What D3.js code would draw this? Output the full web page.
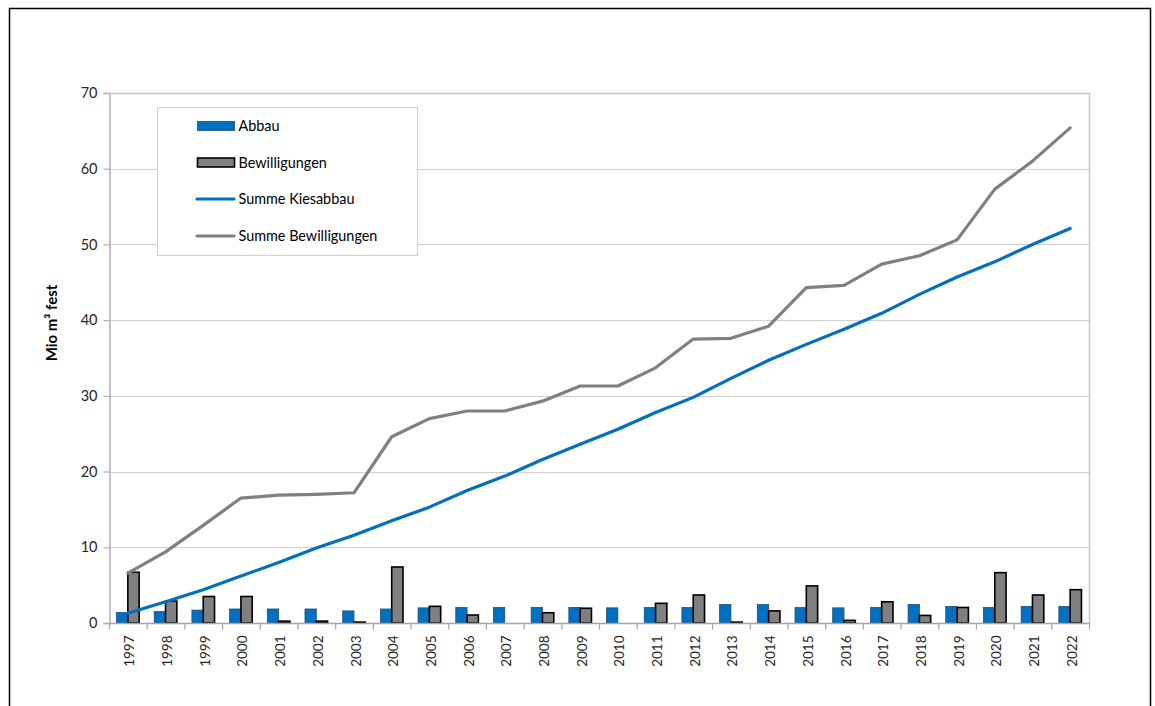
<!DOCTYPE html>
<html>
<head>
<meta charset="utf-8">
<script src="https://cdn.jsdelivr.net/npm/d3@7"></script>
<style>
  html, body { margin: 0; padding: 0; background: #fff; }
  svg { display: block; font-family: Lato, "Liberation Sans", sans-serif; }
</style>
</head>
<body>
<svg id="chart" width="1155" height="706"></svg>
<script>
// Years on the category axis
const years = ["1997","1998","1999","2000","2001","2002","2003","2004","2005","2006","2007","2008","2009",
               "2010","2011","2012","2013","2014","2015","2016","2017","2018","2019","2020","2021","2022"];

// Annual gravel extraction (Mio m³ fest)
const abbau = [1.4, 1.5, 1.7, 1.85, 1.85, 1.85, 1.6, 1.85, 2.0, 2.05, 2.05, 2.05, 2.05,
               2.0, 2.05, 2.05, 2.45, 2.45, 2.05, 2.0, 2.05, 2.45, 2.2, 2.05, 2.2, 2.2];

// Annual permits granted (Mio m³ fest)
const bewilligungen = [6.7, 2.9, 3.5, 3.5, 0.25, 0.25, 0.12, 7.4, 2.2, 1.05, 0, 1.35, 1.95,
                       0, 2.6, 3.7, 0.12, 1.6, 4.9, 0.35, 2.8, 1.0, 2.05, 6.65, 3.7, 4.4];

// Running totals
const summeKiesabbau = [1.3, 2.8, 4.4, 6.2, 8.0, 9.9, 11.6, 13.5, 15.3, 17.5, 19.4, 21.6, 23.6,
                        25.6, 27.8, 29.8, 32.3, 34.7, 36.8, 38.8, 40.9, 43.4, 45.7, 47.7, 50.0, 52.1];
const summeBewilligungen = [6.6, 9.4, 12.9, 16.5, 16.9, 17.0, 17.2, 24.6, 27.0, 28.0, 28.0, 29.3, 31.3,
                            31.3, 33.7, 37.5, 37.6, 39.2, 44.3, 44.6, 47.4, 48.5, 50.6, 57.3, 61.0, 65.4];

const yTicks = [0, 10, 20, 30, 40, 50, 60, 70];

const legendItems = [
  { label: "Abbau", type: "bar", fill: "#0070C0", stroke: "#1F4E79" },
  { label: "Bewilligungen", type: "bar", fill: "#808080", stroke: "#000000" },
  { label: "Summe Kiesabbau", type: "line", stroke: "#0070C0" },
  { label: "Summe Bewilligungen", type: "line", stroke: "#808080" }
];

const svg = d3.select("#chart");

// Frame around the chart object
svg.append("path")
  .attr("d", "M9.5,706 V8.5 H1150.5 V706")
  .attr("fill", "none")
  .attr("stroke", "#000")
  .attr("stroke-width", 1.5);

const plot = { left: 109, right: 1089, top: 93, bottom: 623 };

const x = d3.scaleBand().domain(years).range([plot.left, plot.right]).paddingInner(0).paddingOuter(0);
const y = d3.scaleLinear().domain([0, 70]).range([plot.bottom, plot.top]);

// Gridlines
svg.append("g")
  .selectAll("line")
  .data(yTicks.filter(d => d > 0))
  .join("line")
  .attr("x1", plot.left).attr("x2", plot.right)
  .attr("y1", d => Math.round(y(d)) + 0.5).attr("y2", d => Math.round(y(d)) + 0.5)
  .attr("stroke", "#D0D0D0").attr("stroke-width", 1);

// Plot area border (right side)
svg.append("line")
  .attr("x1", plot.right + 0.5).attr("x2", plot.right + 0.5)
  .attr("y1", plot.top).attr("y2", plot.bottom)
  .attr("stroke", "#C8C8C8").attr("stroke-width", 1.5);

// Y axis
const yAxis = svg.append("g")
  .attr("transform", `translate(${plot.left + 0.5},0)`)
  .call(d3.axisLeft(y).tickValues(yTicks).tickSize(6).tickPadding(6).tickFormat(d3.format("d")));
yAxis.select(".domain").attr("stroke", "#B0B0B0").attr("stroke-width", 1.5);
yAxis.selectAll(".tick line").attr("stroke", "#B0B0B0").attr("stroke-width", 1.2);
yAxis.selectAll(".tick text")
  .attr("font-size", 14.5).attr("fill", "#262626")
  .attr("font-family", "Lato, 'Liberation Sans', sans-serif");

// Y axis title
svg.append("text")
  .attr("transform", "translate(57,323) rotate(-90)")
  .attr("text-anchor", "middle")
  .attr("font-size", 15)
  .attr("font-weight", "bold")
  .attr("fill", "#000")
  .text("Mio m³ fest");

// Bars
const bw = x.bandwidth() * 0.3;
const bars = svg.append("g");
bars.selectAll("rect.abbau")
  .data(years)
  .join("rect")
  .attr("class", "abbau")
  .attr("x", d => x(d) + x.bandwidth() / 2 - bw)
  .attr("width", bw)
  .attr("y", (d, i) => y(abbau[i]))
  .attr("height", (d, i) => y(0) - y(abbau[i]))
  .attr("fill", "#0070C0")
  .attr("stroke", "#1F4E79")
  .attr("stroke-width", 0.8);

bars.selectAll("rect.bew")
  .data(years.map((d, i) => ({ year: d, v: bewilligungen[i] })).filter(d => d.v > 0))
  .join("rect")
  .attr("class", "bew")
  .attr("x", d => x(d.year) + x.bandwidth() / 2)
  .attr("width", bw)
  .attr("y", d => y(d.v))
  .attr("height", d => y(0) - y(d.v))
  .attr("fill", "#808080")
  .attr("stroke", "#000")
  .attr("stroke-width", 1.6);

// X axis
const xAxisG = svg.append("g").attr("transform", `translate(0,${plot.bottom + 0.5})`);
xAxisG.append("line")
  .attr("x1", plot.left).attr("x2", plot.right + 1)
  .attr("stroke", "#A6A6A6").attr("stroke-width", 1.5);
xAxisG.selectAll("line.tk")
  .data(years.concat(["end"]))
  .join("line")
  .attr("class", "tk")
  .attr("x1", d => (d === "end" ? plot.right : x(d)) + 0.5)
  .attr("x2", d => (d === "end" ? plot.right : x(d)) + 0.5)
  .attr("y1", 0).attr("y2", 6)
  .attr("stroke", "#A6A6A6").attr("stroke-width", 1.2);
xAxisG.selectAll("text")
  .data(years)
  .join("text")
  .attr("transform", d => `translate(${x(d) + x.bandwidth() / 2 + 6.5},12) rotate(-90)`)
  .attr("text-anchor", "end")
  .attr("font-size", 13.5)
  .attr("fill", "#262626")
  .text(d => d);

// Cumulative lines
const line = d3.line()
  .x((d, i) => x(years[i]) + x.bandwidth() / 2)
  .y(d => y(d));

svg.append("path")
  .datum(summeBewilligungen)
  .attr("d", line)
  .attr("fill", "none")
  .attr("stroke", "#808080")
  .attr("stroke-width", 3.2)
  .attr("stroke-linejoin", "round")
  .attr("stroke-linecap", "round");

svg.append("path")
  .datum(summeKiesabbau)
  .attr("d", line)
  .attr("fill", "none")
  .attr("stroke", "#0070C0")
  .attr("stroke-width", 3.2)
  .attr("stroke-linejoin", "round")
  .attr("stroke-linecap", "round");

// Plot area top border
svg.append("line")
  .attr("x1", plot.left).attr("x2", plot.right + 1)
  .attr("y1", plot.top + 0.5).attr("y2", plot.top + 0.5)
  .attr("stroke", "#C8C8C8").attr("stroke-width", 1.5);

// Legend
const legend = svg.append("g");
legend.append("rect")
  .attr("x", 157.5).attr("y", 107.5).attr("width", 260).attr("height", 148)
  .attr("fill", "#fff").attr("stroke", "#D0D0D0").attr("stroke-width", 1);

const rowY = [126, 162.5, 199, 236];
const li = legend.selectAll("g.item")
  .data(legendItems)
  .join("g")
  .attr("class", "item")
  .attr("transform", (d, i) => `translate(0,${rowY[i]})`);

li.filter(d => d.type === "bar")
  .append("rect")
  .attr("x", 197.5).attr("y", -4.5).attr("width", 37).attr("height", 9)
  .attr("fill", d => d.fill)
  .attr("stroke", d => d.stroke)
  .attr("stroke-width", d => d.stroke === "#000000" ? 1.6 : 0.8);

li.filter(d => d.type === "line")
  .append("line")
  .attr("x1", 197).attr("x2", 234).attr("y1", 0).attr("y2", 0)
  .attr("stroke", d => d.stroke)
  .attr("stroke-width", 3.2)
  .attr("stroke-linecap", "round");

li.append("text")
  .attr("x", 238.5).attr("y", 0).attr("dy", "0.35em")
  .attr("font-size", 14.4)
  .attr("fill", "#000")
  .text(d => d.label);
</script>
</body>
</html>
